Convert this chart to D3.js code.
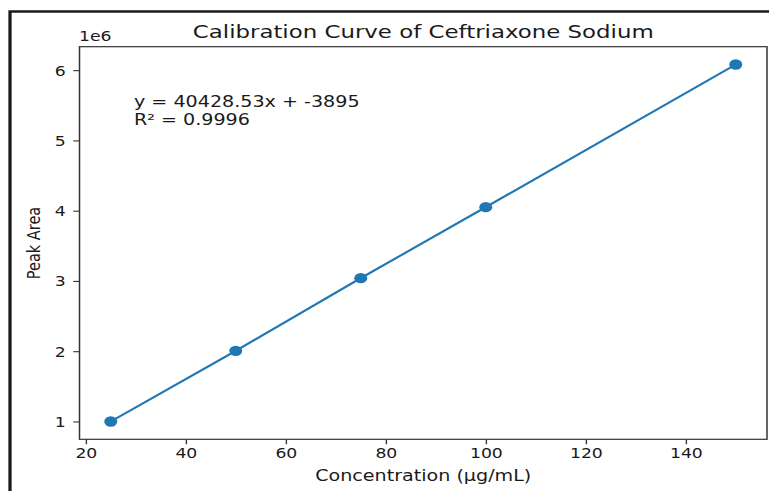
<!DOCTYPE html>
<html>
<head>
<meta charset="utf-8">
<script src="https://cdn.jsdelivr.net/npm/d3@7"></script>
<style>
  html, body { margin: 0; padding: 0; background: #fff; }
  svg { display: block; }
  text { font-family: "DejaVu Sans", sans-serif; fill: #1a1a1a; }
</style>
</head>
<body>
<div id="chart"></div>
<script>
// ---- data ----
const concentrations = [25, 50, 75, 100, 150];           // µg/mL
const peakAreas = [1000000, 2005000, 3040000, 4050000, 6080000];
const xTicks = [20, 40, 60, 80, 100, 120, 140];
const yTicks = [1000000, 2000000, 3000000, 4000000, 5000000, 6000000];
const titleText = "Calibration Curve of Ceftriaxone Sodium";
const xLabel = "Concentration (\u00b5g/mL)";
const yLabel = "Peak Area";
const eqLines = ["y = 40428.53x + -3895", "R\u00b2 = 0.9996"];

// ---- layout (picture is stretched horizontally) ----
const sx = 1.25;
const W = 769 / sx, H = 491;
const plotL = 79.5 / sx, plotR = 767 / sx, plotT = 46.7, plotB = 439.3;

const svg = d3.select("#chart").append("svg")
  .attr("width", 769).attr("height", 491)
  .attr("viewBox", `0 0 ${W} ${H}`)
  .attr("preserveAspectRatio", "none");

// outer frame
svg.append("path")
  .attr("d", `M${10 / sx},${H + 5} L${10 / sx},11.5 L${W + 5},11.5`)
  .attr("fill", "none").attr("stroke", "#1a1a1a").attr("stroke-width", 2.6);

// scales with matplotlib-like 5% margins
const xmin = d3.min(concentrations), xmax = d3.max(concentrations);
const ymin = d3.min(peakAreas), ymax = d3.max(peakAreas);
const xpad = 0.05 * (xmax - xmin), ypad = 0.05 * (ymax - ymin);
const x = d3.scaleLinear().domain([xmin - xpad, xmax + xpad]).range([plotL, plotR]);
const y = d3.scaleLinear().domain([ymin - ypad, ymax + ypad]).range([plotB, plotT]);

// axes
const xAxis = d3.axisBottom(x).tickValues(xTicks).tickSize(5).tickPadding(3).tickFormat(d3.format("d"));
const yAxis = d3.axisLeft(y).tickValues(yTicks).tickSize(5).tickPadding(6).tickFormat(d => d / 1e6);

const gx = svg.append("g").attr("transform", `translate(0,${plotB})`).call(xAxis);
const gy = svg.append("g").attr("transform", `translate(${plotL},0)`).call(yAxis);
[gx, gy].forEach(g => {
  g.select(".domain").remove();
  g.selectAll(".tick line").attr("stroke", "#333").attr("stroke-width", 1.1);
  g.selectAll(".tick text").attr("fill", "#1a1a1a")
    .style("font-family", "DejaVu Sans").style("font-size", "13.8px");
});
gy.selectAll(".tick text").attr("dy", "0.36em");
gx.selectAll(".tick text").attr("dy", "0.76em");

// spines
svg.append("rect")
  .attr("x", plotL).attr("y", plotT)
  .attr("width", plotR - plotL).attr("height", plotB - plotT)
  .attr("fill", "none").attr("stroke", "#333").attr("stroke-width", 1.2);

// line + markers
const pts = concentrations.map((c, i) => [c, peakAreas[i]]);
svg.append("path")
  .datum(pts)
  .attr("fill", "none").attr("stroke", "#1f77b4").attr("stroke-width", 2)
  .attr("d", d3.line().x(d => x(d[0])).y(d => y(d[1])));
svg.selectAll("circle.pt").data(pts).enter().append("circle")
  .attr("class", "pt")
  .attr("cx", d => x(d[0])).attr("cy", d => y(d[1])).attr("r", 5.2)
  .attr("fill", "#1f77b4");

// title
svg.append("text")
  .attr("x", (plotL + plotR) / 2).attr("y", 38)
  .attr("text-anchor", "middle").style("font-size", "18.3px")
  .text(titleText);

// offset text
svg.append("text")
  .attr("x", 79 / sx).attr("y", 41.5)
  .style("font-size", "13.8px")
  .text("1e6");

// axis labels
svg.append("text")
  .attr("x", (plotL + plotR) / 2).attr("y", 481)
  .attr("text-anchor", "middle").style("font-size", "15.3px")
  .text(xLabel);
svg.append("text")
  .attr("transform", `translate(${39.5 / sx},243) rotate(-90)`)
  .attr("text-anchor", "middle").style("font-size", "14.5px")
  .text(yLabel);

// equation annotation
const ann = svg.append("text").style("font-size", "15.3px");
eqLines.forEach((t, i) => {
  ann.append("tspan").attr("x", 134 / sx).attr("y", 107.5 + i * 17.5).text(t);
});
</script>
</body>
</html>
